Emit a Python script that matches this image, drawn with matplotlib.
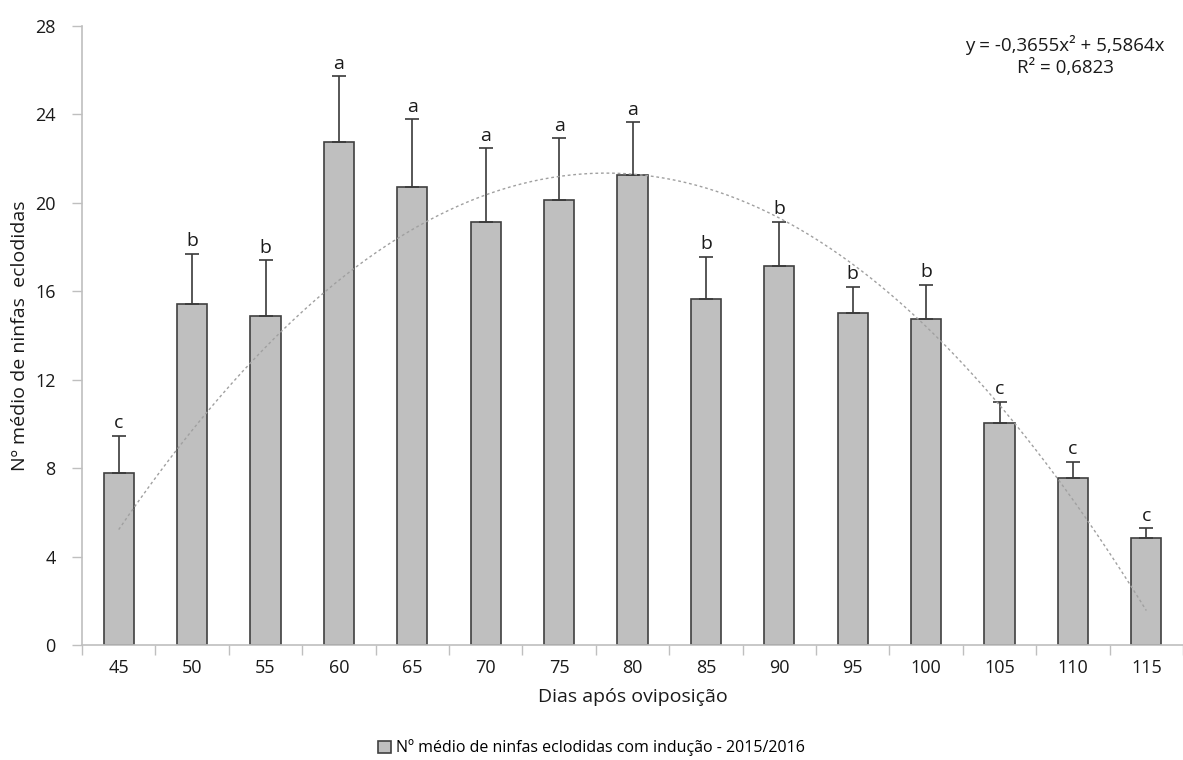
import matplotlib.pyplot as plt
import numpy as np

plt.rcParams['font.family'] = ['Open Sans', 'DejaVu Sans']

# Dias após oviposição and mean number of hatched nymphs
dias = ['45', '50', '55', '60', '65', '70', '75', '80', '85', '90', '95', '100', '105', '110', '115']
media = [7.79, 15.41, 14.87, 22.74, 20.73, 19.15, 20.13, 21.27, 15.64, 17.13, 15.02, 14.75, 10.03, 7.54, 4.82]
erro = [1.68, 2.29, 2.53, 2.98, 3.06, 3.32, 2.79, 2.37, 1.93, 2.02, 1.19, 1.55, 0.98, 0.75, 0.45]
letras = ['c', 'b', 'b', 'a', 'a', 'a', 'a', 'a', 'b', 'b', 'b', 'b', 'c', 'c', 'c']

# polynomial trendline coefficients (x = category index starting at 1)
a2, a1 = -0.3655, 5.5864

fig = plt.figure(figsize=(11.83, 7.6), dpi=100, facecolor='white')
ax = fig.add_axes([82 / 1183, 1 - 645 / 760, 1 - 82 / 1183, (645 - 26) / 760])

x = np.arange(1, len(dias) + 1)
ax.bar(x, media, width=0.41, color='#bfbfbf', edgecolor='#404040', linewidth=1.2,
       label='Nº médio de ninfas eclodidas com indução - 2015/2016', zorder=2)
ax.errorbar(x, media, yerr=[np.zeros(len(erro)), erro], fmt='none', ecolor='#3a3a3a',
            elinewidth=1.2, capsize=5, capthick=1.2, zorder=3)

for xi, m, e, l in zip(x, media, erro, letras):
    ax.text(xi, m + e + 0.15, l, ha='center', va='bottom', fontsize=14, color='#1a1a1a')

# trendline
xt = np.linspace(1, len(dias), 300)
ax.plot(xt, a2 * xt ** 2 + a1 * xt, color='#a0a0a0', linewidth=1.0,
        linestyle=(0, (2, 2)), zorder=4)

ax.text(0.893, 0.985, 'y = -0,3655x² + 5,5864x\nR² = 0,6823', transform=ax.transAxes,
        ha='center', va='top', fontsize=13.5, linespacing=1.25, color='#1a1a1a')

ax.set_xlim(0.5, len(dias) + 0.5)
ax.set_ylim(0, 28)
ax.set_yticks(np.arange(0, 29, 4))
ax.set_xticks(x)
ax.set_xticklabels(dias)
ax.set_xticks(np.arange(0.5, len(dias) + 1, 1), minor=True)
ax.tick_params(axis='x', which='major', length=0, pad=10, labelsize=13, labelcolor='#1a1a1a')
ax.tick_params(axis='x', which='minor', length=7, width=1, color='#bfbfbf', direction='out')
ax.tick_params(axis='y', length=7, width=1, color='#bfbfbf', pad=12, labelsize=13, labelcolor='#1a1a1a')

for s in ['top', 'right']:
    ax.spines[s].set_visible(False)
for s in ['left', 'bottom']:
    ax.spines[s].set_color('#bfbfbf')
    ax.spines[s].set_linewidth(1.2)

ax.set_xlabel('Dias após oviposição', fontsize=14, labelpad=8, color='#1a1a1a')
ax.set_ylabel('Nº médio de ninfas  eclodidas', fontsize=14, labelpad=4, color='#1a1a1a')

leg = fig.legend(loc='center', bbox_to_anchor=(0.5, 1 - 748 / 760), frameon=False,
                 fontsize=11.5, handlelength=0.8, handleheight=0.8, handletextpad=0.3)

fig.savefig('out.png', dpi=100)
